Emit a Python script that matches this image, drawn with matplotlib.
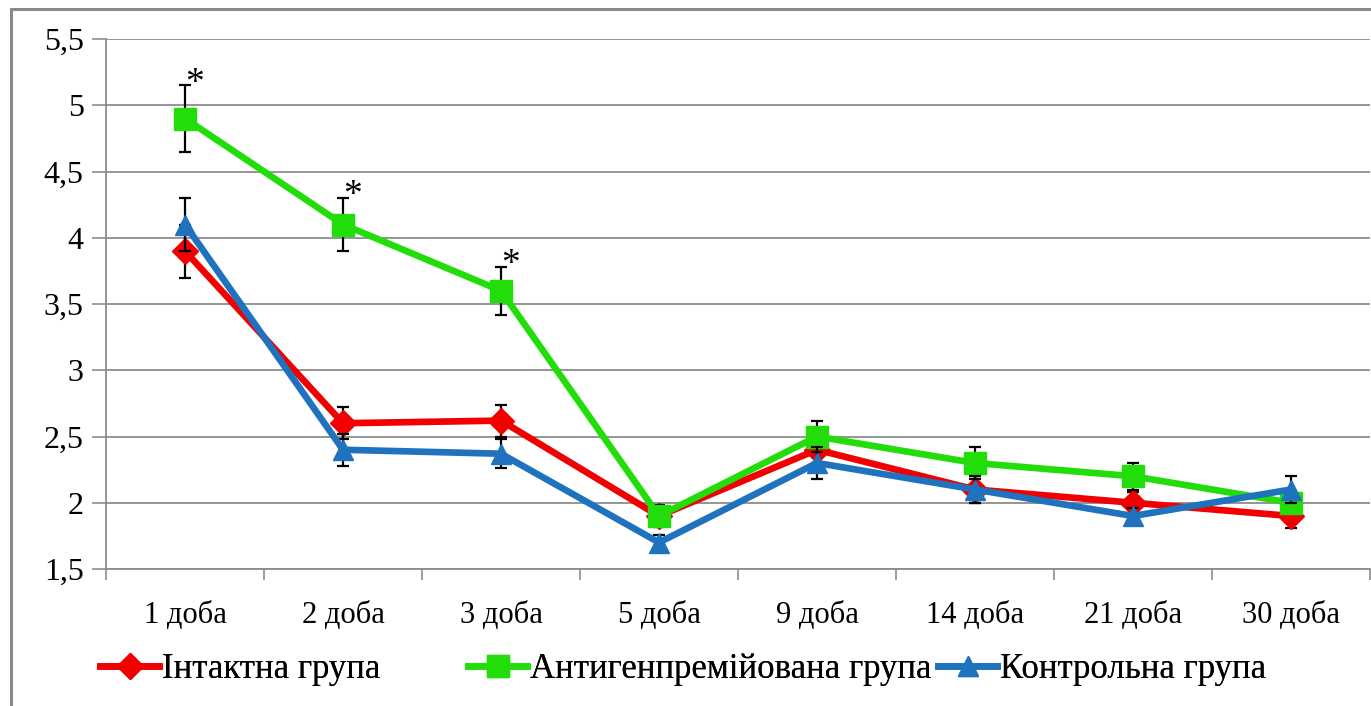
import matplotlib
matplotlib.use("Agg")
import matplotlib.pyplot as plt
from matplotlib.patches import Rectangle

# Days of observation
categories = ["1 доба", "2 доба", "3 доба", "5 доба", "9 доба", "14 доба", "21 доба", "30 доба"]

series_names = ["Інтактна група", "Антигенпремійована група", "Контрольна група"]

intact = [3.9, 2.6, 2.62, 1.9, 2.4, 2.1, 2.0, 1.9]
intact_err = [0.2, 0.12, 0.12, 0.05, 0.1, 0.1, 0.08, 0.09]

antigen = [4.9, 4.1, 3.6, 1.9, 2.5, 2.3, 2.2, 2.0]
antigen_err = [0.25, 0.2, 0.18, 0.08, 0.12, 0.12, 0.1, 0.08]

control = [4.1, 2.4, 2.37, 1.7, 2.3, 2.1, 1.9, 2.1]
control_err = [0.2, 0.12, 0.11, 0.06, 0.12, 0.1, 0.06, 0.1]

# Significant differences marked on the antigen-primed group
significant = [0, 1, 2]

yticks = [1.5, 2, 2.5, 3, 3.5, 4, 4.5, 5, 5.5]
ytick_labels = ["1,5", "2", "2,5", "3", "3,5", "4", "4,5", "5", "5,5"]

plt.rcParams["font.family"] = ["Liberation Serif", "DejaVu Serif"]

W, H = 1371, 706
fig = plt.figure(figsize=(W / 100, H / 100), dpi=100)
ax = fig.add_axes([106 / W, 1 - 569 / H, (1370 - 106) / W, (569 - 39) / H])

x = list(range(len(categories)))
styles = [
    (intact, intact_err, "#F00000", "D", 13),
    (antigen, antigen_err, "#22DD0A", "s", 16),
    (control, control_err, "#1F72BE", "^", 15),
]

handles = []
for i, ((vals, errs, color, marker, ms), name) in enumerate(zip(styles, series_names)):
    ax.errorbar(x, vals, yerr=errs, fmt="none", ecolor="black", elinewidth=1.6,
                capsize=4, capthick=1.6, zorder=2 + i)
    line, = ax.plot(x, vals, color=color, lw=4.8, marker=marker, ms=ms, mfc=color,
                    mec=color, label=name, zorder=2.5 + i)
    handles.append(line)

for idx in significant:
    ax.annotate("*", (x[idx], antigen[idx] + antigen_err[idx]),
                xytext=(7, -11), textcoords="offset points",
                ha="center", va="bottom", fontsize=27, color="black", zorder=10)

ax.set_xlim(-0.5, len(categories) - 0.5)
ax.set_ylim(1.5, 5.5)
ax.set_yticks(yticks)
ax.set_yticklabels(ytick_labels, fontsize=23)
ax.set_xticks(x)
ax.set_xticklabels(categories, fontsize=22)
ax.tick_params(axis="x", length=0, pad=23)
ax.tick_params(axis="y", length=10, width=1.2, color="#8c8c8c", pad=6)

# Category separators on the x axis
ax.set_xticks([v - 0.5 for v in range(len(categories) + 1)], minor=True)
ax.tick_params(axis="x", which="minor", length=8, width=1.2, color="#8c8c8c", direction="out")

ax.grid(axis="y", color="#8c8c8c", lw=1.3, zorder=0)
for side in ["top", "right"]:
    ax.spines[side].set_visible(False)
ax.spines["left"].set_color("#8c8c8c")
ax.spines["left"].set_linewidth(1.3)
ax.spines["bottom"].set_color("#8c8c8c")
ax.spines["bottom"].set_linewidth(1.3)

# Legend entries laid out in one row below the plot
legend_x = [100, 468, 938]
for h, lx in zip(handles, legend_x):
    leg = fig.legend(handles=[h], loc="center left", bbox_to_anchor=(lx / W, 1 - 670 / H),
                     frameon=False, fontsize=25, handlelength=1.7, handletextpad=0.1,
                     borderaxespad=0, borderpad=0)
    fig.add_artist(leg)

# Outer chart frame
fig.patches.append(Rectangle((11 / W, -0.1), 1.2, 1 - 9 / H + 0.1,
                             transform=fig.transFigure, fill=False,
                             edgecolor="#8a8a8a", lw=2.2))

fig.savefig("out.png", dpi=100)
